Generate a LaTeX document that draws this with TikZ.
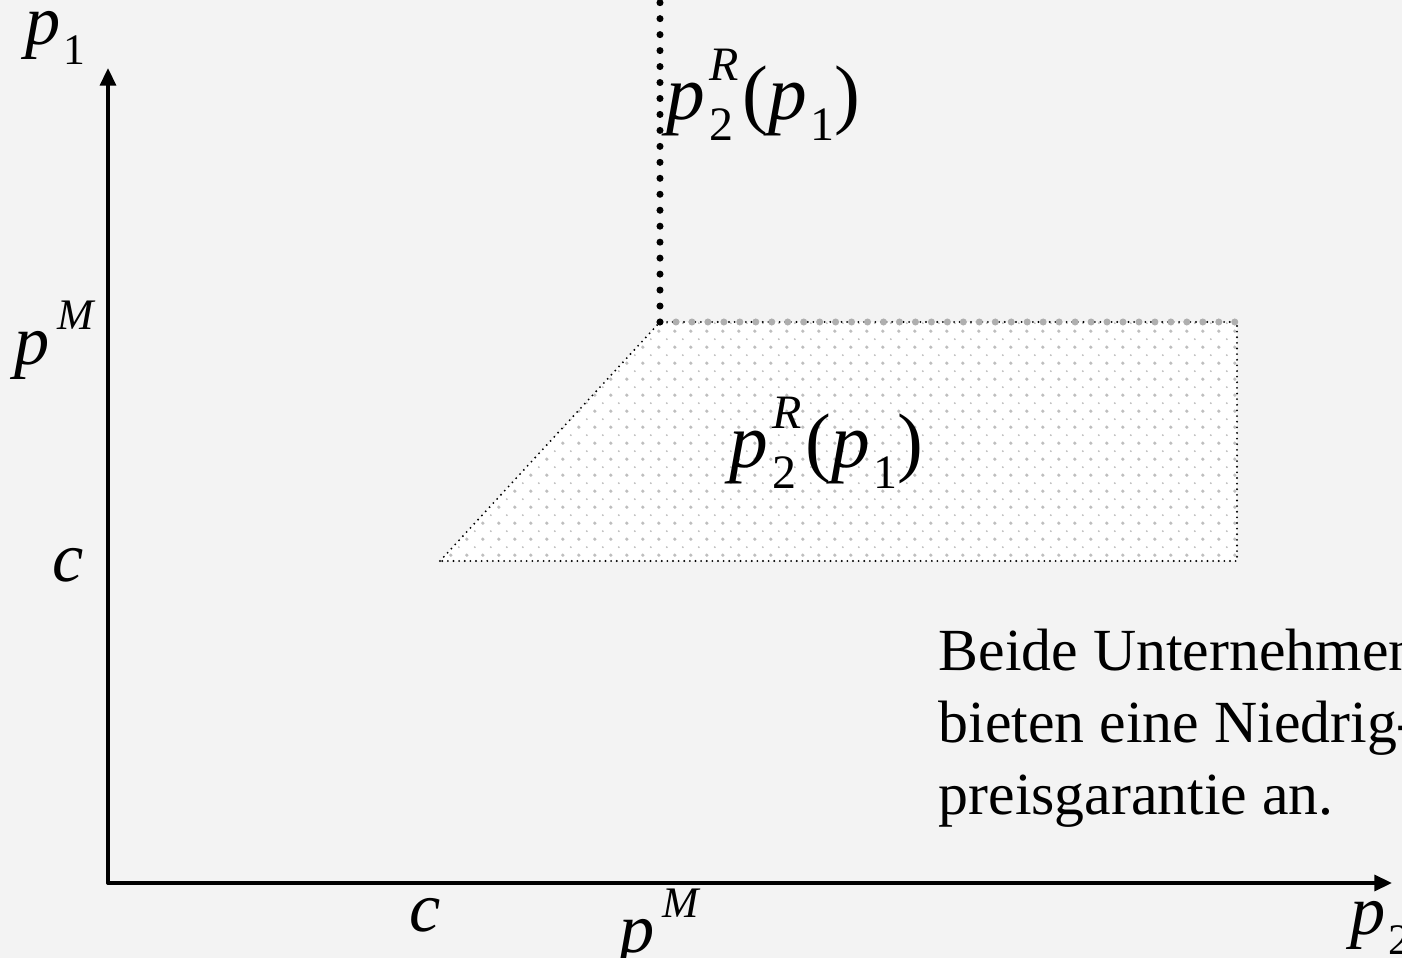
\documentclass[tikz,border=0pt]{standalone}
\usepackage{fontspec}
\setmainfont{Liberation Serif}
\usetikzlibrary{arrows.meta,patterns.meta}
\definecolor{cback}{RGB}{243,243,243}
\definecolor{cdots}{RGB}{190,190,190}
\definecolor{cedge}{RGB}{175,175,175}

% halftone fill of the region
\tikzdeclarepattern{
  name=halftone,
  type=uncolored,
  bounding box={(0pt,0pt) and (4.54pt,4.54pt)},
  tile size={(4.54pt,4.54pt)},
  code={
    \fill (1.1pt,1.1pt) circle (0.5pt);
    \fill (3.37pt,3.37pt) circle (0.3pt);
  }
}

\newcommand{\lowidx}[1]{\raisebox{-0.28em}{\scalebox{0.62}{#1}}}
\newcommand{\hiidx}[1]{\raisebox{0.5em}{\scalebox{0.62}{\textit{#1}}}}
\newcommand{\preply}{\textit{p}\hspace{0.06em}\rlap{\hiidx{R}}\lowidx{2}\hspace{0.12em}(\textit{p}\hspace{0.04em}\lowidx{1})}

\tikzset{
  axis/.style={->,line width=1pt},
  lbl/.style={font=\fontsize{20}{24}\selectfont,inner sep=0pt},
  fun/.style={font=\fontsize{22}{26}\selectfont,inner sep=0pt},
  finedots/.style={line width=0.6pt,dash pattern=on 0pt off 1.6pt},
  bigdots/.style={line width=2pt,dash pattern=on 0pt off 4.54pt},
}

\begin{document}
\begin{tikzpicture}[x=0.01cm,y=-0.01cm,>={Triangle[length=5pt,width=4.5pt]},line cap=round]
% ---------- canvas ----------
\fill[cback] (0,0) rectangle (1402,958);
\useasboundingbox (0,0) rectangle (1402,958);
% ---------- axes ----------
\coordinate (O) at (108,883);
\coordinate (ytop) at (108,68);
\coordinate (xend) at (1392,883);
\draw[axis] (O) -- (ytop);
\draw[axis] (O) -- (xend);
\node[lbl] (p1) at (55,38) {\textit{p}\hspace{0.04em}\lowidx{1}};
\node[lbl] (p2) at (1380,928) {\textit{p}\hspace{0.04em}\lowidx{2}};
\node[lbl] (pMy) at (55,340) {\textit{p}\hspace{0.12em}\hiidx{M}};
\node[lbl] (cy) at (68,565) {\textit{c}};
\node[lbl] (cx) at (425,915) {\textit{c}};
\node[lbl] (pMx) at (660,928) {\textit{p}\hspace{0.12em}\hiidx{M}};
% ---------- region ----------
\coordinate (A) at (440,561);
\coordinate (B) at (660,322);
\coordinate (C) at (1237,322);
\coordinate (D) at (1237,561);
\fill[white] (A) -- (B) -- (C) -- (D) -- cycle;
\fill[pattern=halftone,pattern color=cdots] (A) -- (B) -- (C) -- (D) -- cycle;
\draw[finedots] (A) -- (B) -- (C) -- (D) -- cycle;
\draw[bigdots,cedge] (B) -- (C);
\node[fun] (rin) at (826,443) {\preply};
% ---------- reaction above p^M ----------
\coordinate (Btop) at (660,0);
\draw[bigdots] (B) -- (Btop);
\node[fun] (rtop) at (763,95) {\preply};
% ---------- note ----------
\node[anchor=north west,align=left,inner sep=0pt,font=\fontsize{17}{20.5}\selectfont] (note) at (938,628)
  {Beide Unternehmen\\bieten eine Niedrig-\\preisgarantie an.};
\end{tikzpicture}
\end{document}
